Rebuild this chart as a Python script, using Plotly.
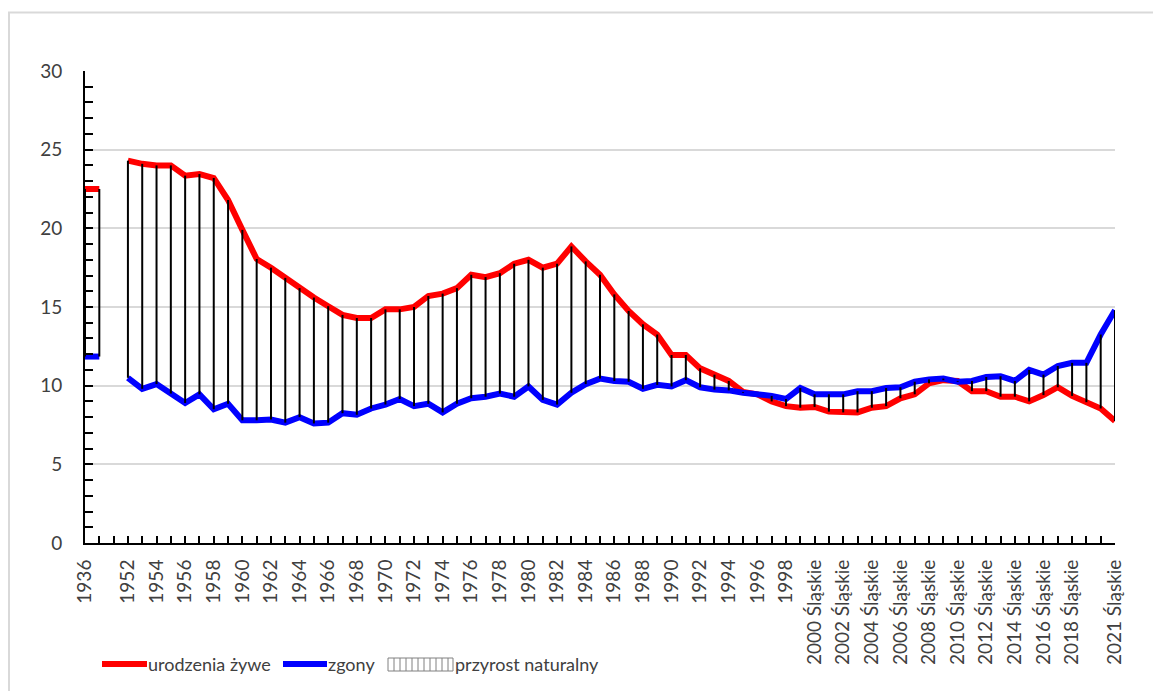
import plotly.graph_objects as go

# ---------------- data ----------------
categories = (["1936", "", ""]
              + [str(y) for y in range(1952, 2000)]
              + [f"{y} Śląskie" for y in range(2000, 2022)])

births = [22.5, 22.5, None,
          24.3, 24.1, 24.0, 24.0, 23.35, 23.45, 23.2, 21.8, 19.9, 18.05,
          17.5, 16.85, 16.2, 15.6, 15.05, 14.5, 14.3, 14.3, 14.85, 14.85,
          15.0, 15.7, 15.85, 16.2, 17.05, 16.9, 17.15, 17.75, 18.0, 17.5,
          17.75, 18.85, 17.9, 17.05, 15.8, 14.75, 13.9, 13.25, 11.95, 11.95,
          11.1, 10.7, 10.3, 9.6, 9.45, 9.0, 8.7, 8.6,
          8.65, 8.35, 8.3, 8.3, 8.6, 8.7, 9.2, 9.45, 10.15, 10.35,
          10.3, 9.65, 9.65, 9.3, 9.3, 9.0, 9.4, 9.9, 9.35, 8.95,
          8.55, 7.75]

deaths = [11.85, 11.85, None,
          10.5, 9.8, 10.1, 9.5, 8.9, 9.45, 8.5, 8.85, 7.8, 7.8,
          7.85, 7.65, 8.0, 7.6, 7.65, 8.25, 8.15, 8.55, 8.8, 9.15,
          8.7, 8.85, 8.3, 8.85, 9.2, 9.3, 9.5, 9.3, 9.95, 9.1,
          8.8, 9.55, 10.1, 10.45, 10.3, 10.25, 9.8, 10.05, 9.95, 10.35,
          9.9, 9.75, 9.7, 9.55, 9.45, 9.35, 9.15, 9.85,
          9.45, 9.45, 9.45, 9.65, 9.65, 9.85, 9.9, 10.25, 10.4, 10.45,
          10.25, 10.3, 10.55, 10.6, 10.3, 11.0, 10.7, 11.25, 11.45, 11.45,
          13.25, 14.8]

shown_labels = (["1936"] + [str(y) for y in range(1952, 2000, 2)]
                + [f"{y} Śląskie" for y in range(2000, 2020, 2)] + ["2021 Śląskie"])

y_ticks = [0, 5, 10, 15, 20, 25, 30]

series_names = ["urodzenia żywe", "zgony", "przyrost naturalny"]

# ---------------- layout constants ----------------
W, H = 1161, 691
OFF = 8  # page body margin offset
PL, PR, PT, PB = 85, 1115, 71, 543  # plot area in screenshot pixels
L, T = PL - OFF, PT - OFF
R = W - (PR - OFF)
B = H - (PB - OFF)
PW, PH = PR - PL, PB - PT
FONT = "Lato"
TXT = "#404040"


def pxx(px):
    return (px - PL) / PW


def pxy(py):
    return (PB - py) / PH


idx = list(range(len(categories)))
tick_text = [c if c in shown_labels else "" for c in categories]

fig = go.Figure()

fig.add_trace(go.Scatter(x=idx, y=births, mode="lines", name=series_names[0],
                         line=dict(color="#ff0000", width=6), connectgaps=False,
                         showlegend=False))
fig.add_trace(go.Scatter(x=idx, y=deaths, mode="lines", name=series_names[1],
                         line=dict(color="#0000ff", width=6), connectgaps=False,
                         showlegend=False))

# high-low (drop) lines
hx, hy = [], []
for i, b, d in zip(idx, births, deaths):
    if b is None or d is None:
        continue
    hx += [i, i, None]
    hy += [b, d, None]
fig.add_trace(go.Scatter(x=hx, y=hy, mode="lines", name=series_names[2],
                         line=dict(color="#000000", width=2), showlegend=False))

# ---------------- manual legend ----------------
shapes = []
ann = []
leg_y = 664
LEG_SIZE = 18
# outer chart border
shapes.append(dict(type="rect", xref="paper", yref="paper",
                   x0=pxx(9), x1=pxx(1200), y0=pxy(730), y1=pxy(12.5),
                   line=dict(color="#d9d9d9", width=2), fillcolor="rgba(0,0,0,0)",
                   layer="below"))
for (x0, x1, col, name, tx) in [(102, 147, "#ff0000", series_names[0], 148),
                                (283, 327, "#0000ff", series_names[1], 328)]:
    shapes.append(dict(type="line", xref="paper", yref="paper",
                       x0=pxx(x0), x1=pxx(x1), y0=pxy(leg_y), y1=pxy(leg_y),
                       line=dict(color=col, width=6)))
    ann.append(dict(xref="paper", yref="paper", x=pxx(tx), y=pxy(leg_y),
                    text=name, showarrow=False, xanchor="left", yanchor="middle",
                    xshift=-2, font=dict(family=FONT, size=LEG_SIZE, color=TXT)))
bx0, bx1, by0, by1 = 388, 453, 658, 671
shapes.append(dict(type="rect", xref="paper", yref="paper",
                   x0=pxx(bx0), x1=pxx(bx1), y0=pxy(by1), y1=pxy(by0),
                   line=dict(color="#808080", width=1), fillcolor="white"))
xv = bx0 + 6
while xv < bx1 - 1:
    shapes.append(dict(type="line", xref="paper", yref="paper",
                       x0=pxx(xv), x1=pxx(xv), y0=pxy(by1), y1=pxy(by0),
                       line=dict(color="#808080", width=1)))
    xv += 6
ann.append(dict(xref="paper", yref="paper", x=pxx(455), y=pxy(leg_y),
                text=series_names[2], showarrow=False, xanchor="left", yanchor="middle",
                xshift=-2, font=dict(family=FONT, size=LEG_SIZE, color=TXT)))

fig.update_layout(
    width=W, height=H,
    margin=dict(l=L, r=R, t=T, b=B, autoexpand=False),
    paper_bgcolor="white", plot_bgcolor="white",
    font=dict(family=FONT, size=19, color=TXT),
    showlegend=False,
    shapes=shapes, annotations=ann,
    xaxis=dict(range=[0, len(categories) - 1], tickmode="array", tickvals=idx,
               ticktext=tick_text, tickangle=-90, ticks="inside", ticklen=7,
               tickwidth=1.5, tickcolor="black", showline=True, linecolor="black",
               linewidth=2, showgrid=False, zeroline=False,
               tickfont=dict(family=FONT, size=19, color=TXT),
               ticklabelstandoff=7),
    yaxis=dict(range=[0, 30], tickmode="array", tickvals=y_ticks, ticks="inside",
               ticklen=8, tickwidth=1.5, tickcolor="black", showline=True,
               linecolor="black", linewidth=2, showgrid=True, gridcolor="#d9d9d9",
               gridwidth=2, zeroline=False,
               minor=dict(dtick=1, tick0=0, ticks="inside", ticklen=8,
                          tickwidth=1.5, tickcolor="black", showgrid=False),
               tickfont=dict(family=FONT, size=19, color=TXT),
               ticklabelstandoff=17),
)

fig.write_html("out.html")
